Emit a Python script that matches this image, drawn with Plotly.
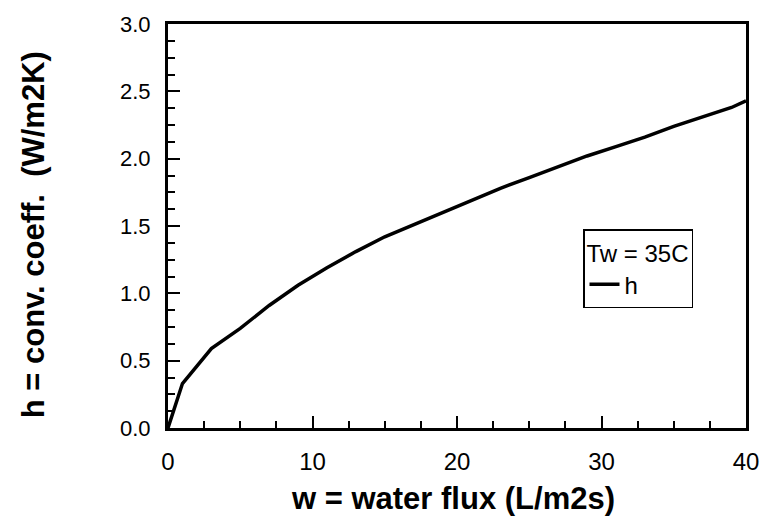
import plotly.graph_objects as go

w_flux = [0, 1, 3, 5, 7, 9, 11, 13, 15, 17, 19, 21, 23, 25, 27, 29, 31, 33, 35, 37, 39, 40]
h_coeff = [0.0, 0.33, 0.59, 0.74, 0.91, 1.06, 1.19, 1.31, 1.42, 1.51, 1.60, 1.69, 1.78,
           1.86, 1.94, 2.02, 2.09, 2.16, 2.24, 2.31, 2.38, 2.43]
series_name = "h"
legend_title = "Tw = 35C"
x_title = "w = water flux (L/m2s)"
y_title = "h = conv. coeff.  (W/m2K)"
x_ticks = [0, 10, 20, 30, 40]
y_ticks = [0, 0.5, 1.0, 1.5, 2.0, 2.5, 3.0]
y_ticktext = ["0.0", "0.5", "1.0", "1.5", "2.0", "2.5", "3.0"]

fig = go.Figure()
fig.add_trace(go.Scatter(x=w_flux, y=h_coeff, mode="lines", name=series_name,
                         line=dict(color="black", width=3.5)))

font_main = "Liberation Sans, Arial, sans-serif"
fig.update_layout(
    width=771, height=525,
    margin=dict(l=168, r=16, t=15, b=97),
    paper_bgcolor="white", plot_bgcolor="white",
    font=dict(family=font_main, color="black", size=22),
    showlegend=True,
    legend=dict(
        x=0.718, y=0.4915, xanchor="left", yanchor="top",
        bordercolor="black", borderwidth=1.5, bgcolor="white",
        title=dict(text=legend_title, font=dict(size=24)),
        font=dict(size=24), itemwidth=30,
    ),
)
fig.update_xaxes(
    range=[0, 40], tickvals=x_ticks,
    ticks="inside", ticklen=12, tickwidth=2, tickcolor="black",
    minor=dict(dtick=2.5, ticks="inside", ticklen=7, tickwidth=1.5, tickcolor="black"),
    showline=True, linecolor="black", linewidth=3, mirror=True,
    showgrid=False, zeroline=False, ticklabelstandoff=10,
    tickfont=dict(size=24),
)
fig.update_yaxes(
    range=[0, 3.0], tickvals=y_ticks, ticktext=y_ticktext,
    ticks="inside", ticklen=12, tickwidth=2, tickcolor="black",
    minor=dict(dtick=0.125, ticks="inside", ticklen=7, tickwidth=1.5, tickcolor="black"),
    showline=True, linecolor="black", linewidth=3, mirror=True,
    showgrid=False, zeroline=False, ticklabelstandoff=10,
    tickfont=dict(size=22),
)
fig.add_annotation(text="<b>" + x_title + "</b>", xref="paper", yref="paper",
                   x=0.5, y=0, xshift=-4, yshift=-70, xanchor="center", yanchor="middle",
                   showarrow=False, font=dict(size=31))
fig.add_annotation(text="<b>" + y_title + "</b>", xref="paper", yref="paper",
                   x=0, y=0.477, xshift=-135, xanchor="center", yanchor="middle",
                   textangle=-90, showarrow=False, font=dict(size=31))
fig.write_html("out.html")
